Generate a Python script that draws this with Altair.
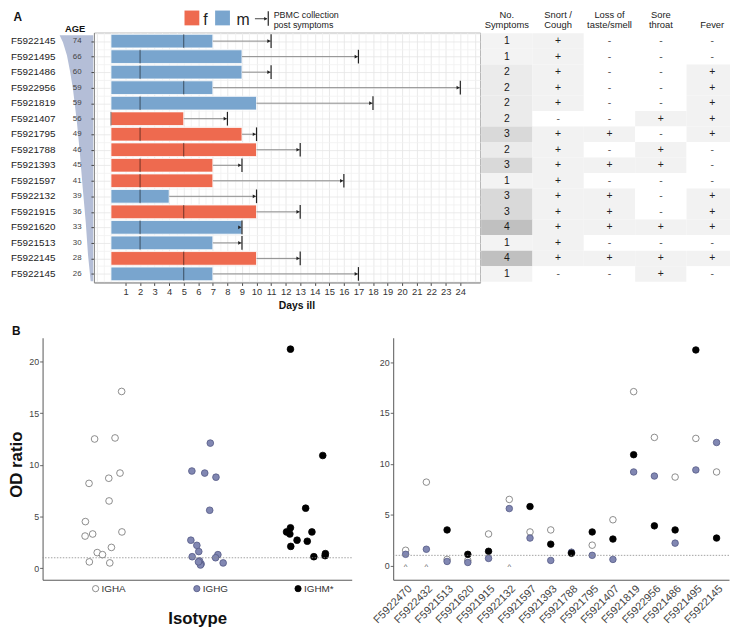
import altair as alt
import pandas as pd

FONT = "Liberation Sans"
RED = "#ee6a4f"
BLUE = "#79a5ce"
WEDGE = "#b4bed7"
INK = "#222222"

# ---------------- Panel A data ----------------
patient_ids = ["F5922145", "F5921495", "F5921486", "F5922956", "F5921819", "F5921407",
               "F5921795", "F5921788", "F5921393", "F5921597", "F5922132", "F5921915",
               "F5921620", "F5921513", "F5922145", "F5922145"]
ages = [74, 66, 60, 59, 59, 56, 49, 46, 45, 41, 39, 36, 33, 30, 28, 26]
sexes = ["m", "m", "m", "m", "m", "f", "f", "f", "f", "f", "m", "f", "m", "m", "f", "m"]
days_ill = [7, 9, 9, 7, 10, 5, 9, 10, 7, 7, 4, 10, 9, 7, 10, 7]
marker_day = [5, 2, 2, 5, 2, 0, 2, 5, 2, 2, 2, 5, 2, 2, 5, 5]
pbmc_day = [11, 17, 11, 24, 18, 8, 10, 13, 9, 16, 10, 13, 9, 9, 13, 17]

n_symptoms = [1, 1, 2, 2, 2, 2, 3, 2, 3, 1, 3, 3, 4, 1, 4, 1]
snort_cough = ["+", "+", "+", "+", "+", "-", "+", "+", "+", "+", "+", "+", "+", "+", "+", "-"]
loss_taste = ["-", "-", "-", "-", "-", "-", "+", "-", "+", "-", "+", "+", "+", "-", "+", "-"]
sore_throat = ["-", "-", "-", "-", "-", "+", "-", "+", "+", "-", "-", "-", "+", "-", "+", "+"]
fever = ["-", "-", "+", "+", "+", "+", "+", "-", "-", "-", "+", "+", "+", "-", "+", "-"]
header_line1 = ["No.", "Snort /", "Loss of", "Sore", ""]
header_line2 = ["Symptoms", "Cough", "taste/smell", "throat", "Fever"]
count_shades = {1: "#f3f3f3", 2: "#ebebeb", 3: "#d9d9d9", 4: "#c0c0c0"}
sign_shades = {"+": "#f2f2f2", "-": "#ffffff"}
sex_domain = ["f", "m"]
sex_colors = [RED, BLUE]
pbmc_lines = ["PBMC collection", "post symptoms"]

# age wedge outline (row position, width)
wedge_pos = [0.12, 0.59, 1.43, 2.5, 3.56, 4.61, 5.68, 6.74, 7.9, 10.0, 12.15, 14.27, 15.97]
wedge_width = [34.0, 30.6, 26.6, 23.3, 20.6, 18.6, 16.6, 15.0, 13.3, 10.6, 7.6, 5.3, 2.6]

# ---------------- Panel B data ----------------
ids_b = ["F5922470", "F5922432", "F5921513", "F5921620", "F5921915", "F5922132", "F5921597",
         "F5921393", "F5921788", "F5921795", "F5921407", "F5921819", "F5922956", "F5921486",
         "F5921495", "F5922145"]
igha = [1.5, 8.2, 0.6, 0.5, 3.1, 6.5, 3.3, 3.5, 1.3, 2.0, 4.5, 17.1, 12.6, 8.7, 12.5, 9.2]
ighg = [1.1, 1.6, 0.4, 0.3, 0.7, 5.6, 2.7, 0.5, 1.3, 1.0, 0.6, 9.2, 8.8, 2.2, 9.4, 12.1]
ighm = [None, None, 3.5, 1.1, 1.4, None, 5.8, 2.1, 1.2, 3.3, 2.6, 10.9, 3.9, 3.5, 21.2, 2.7]
jit_igha = [-0.062, -0.143, -0.140, 0.062, -0.182, 0.055, -0.107, 0.182, -0.010, 0.078,
            -0.179, 0.179, 0.114, 0.052, -0.088, 0.163]
jit_ighg = [-0.124, -0.059, -0.036, -0.042, -0.052, 0.049, -0.137, 0.182, 0.130, 0.107,
            -0.062, 0.0, 0.111, -0.078, -0.127, 0.055]
jit_ighm = [0.0, 0.0, -0.192, 0.078, 0.192, 0.0, -0.003, -0.150, 0.189, -0.159,
            0.013, 0.166, -0.153, 0.059, -0.153, -0.088]
iso_names = ["IGHA", "IGHG", "IGHM"]
iso_labels = ["IGHA", "IGHG", "IGHM*"]
iso_fill = ["#ffffff", "#8187b2", "#000000"]
iso_stroke = ["#707070", "#555a85", "#000000"]
cutoff = [1]

# ---------------- tables ----------------
rows_df = pd.DataFrame({"r": list(range(16)), "id": patient_ids, "age": ages, "sex": sexes,
                        "days": days_ill, "mark": marker_day, "pbmc": pbmc_day})
wedge_df = pd.DataFrame({"pos": wedge_pos, "w": wedge_width})

cells = []
for r in range(16):
    cols = [str(n_symptoms[r]), snort_cough[r], loss_taste[r], sore_throat[r], fever[r]]
    for j, t in enumerate(cols):
        if j == 0:
            bg, kind = count_shades[n_symptoms[r]], "n"
        else:
            bg, kind = sign_shades[t], ("p" if t == "+" else "m")
        cells.append({"r": r, "j": j, "txt": t, "bg": bg, "kind": kind})
table_df = pd.DataFrame(cells)
head_df = pd.DataFrame({"j": list(range(5)), "h1": header_line1, "h2": header_line2})

recs = []
for k, (iso, vals, jits) in enumerate(zip(iso_names, [igha, ighg, ighm], [jit_igha, jit_ighg, jit_ighm]), start=1):
    for pid, v, jt in zip(ids_b, vals, jits):
        if v is not None:
            recs.append({"id": pid, "iso": iso, "k": k, "val": v, "jit": jt})
long_df = pd.DataFrame(recs)
missing_df = pd.DataFrame({"id": [p for p, v in zip(ids_b, ighm) if v is None]})
missing_df["val"] = 0
iso_df = pd.DataFrame({"k": [1, 2, 3], "iso": iso_names, "label": iso_labels})
cut_df = pd.DataFrame({"t": cutoff})
sex_df = pd.DataFrame({"sex": sex_domain, "col": sex_colors, "i": [0, 1]})
one = pd.DataFrame({"a": [0]})

# ---------------- scales ----------------
TOP_H = 253
ys = alt.Scale(domain=[-0.05, 16.05], reverse=True, nice=False, zero=False)
xs = alt.Scale(domain=[-1.17, 25.36], nice=False, zero=False)

# ---------------- age / id column ----------------
ax_age = alt.Scale(domain=[0, 52], nice=False, zero=False)
wedge = alt.Chart(wedge_df).transform_calculate(
    xl="51.3 - datum.w", xr="51.3"
).mark_area(orient="horizontal", color=WEDGE).encode(
    y=alt.Y("pos:Q", scale=ys, axis=None),
    x=alt.X("xl:Q", scale=ax_age, axis=None),
    x2="xr:Q",
)
rowbase = alt.Chart(rows_df).transform_calculate(
    c="datum.r + 0.5", t="datum.r + 0.06", b="datum.r + 0.94", zero="0"
)
id_text = rowbase.mark_text(align="right", baseline="middle", fontSize=10, color=INK).encode(
    y=alt.Y("c:Q", scale=ys, axis=None), x=alt.value(13), text="id:N")
age_text = rowbase.mark_text(align="center", baseline="middle", fontSize=8, color="#444444").encode(
    y=alt.Y("c:Q", scale=ys, axis=None), x=alt.value(35), text="age:Q")
age_head = alt.Chart(one).mark_text(fontSize=9.5, fontWeight="bold", color="#111111",
                                    baseline="middle").encode(
    x=alt.value(33), y=alt.value(-4), text=alt.value("AGE"))
label_a = alt.Chart(one).mark_text(fontSize=12, fontWeight="bold", color="#111111",
                                   align="left", baseline="middle").encode(
    x=alt.value(-29.5), y=alt.value(-16), text=alt.value("A"))
agecol = alt.layer(wedge, id_text, age_text, age_head, label_a).properties(width=52, height=TOP_H)

# ---------------- bars ----------------
half_days = [v / 2 for v in range(-2, 51)]
half_rows = [v / 2 for v in range(0, 33)]
int_test = "datum.value % 1 == 0 && datum.value >= 1 && datum.value <= 24"
x_axis = alt.Axis(
    values=half_days, title="Days ill", titleFontSize=10.5, titleFontWeight="bold",
    titleColor="#111111", titlePadding=5, titleX=205, titleAlign="center",
    labelExpr="(" + int_test + ") ? datum.value : ''",
    labelFontSize=9.5, labelColor="#333333", labelPadding=1, labelOverlap=False, labelFlush=False,
    tickSize=3, tickColor="#444444",
    tickOpacity={"condition": {"test": int_test, "value": 1}, "value": 0},
    grid=True, gridWidth=0.8,
    gridColor={"condition": {"test": "datum.value % 1 == 0", "value": "#e3e3e3"}, "value": "#f0f0f0"},
    domainColor="#888888")
y_axis = alt.Axis(
    values=half_rows, labels=False, title="", tickSize=3, tickColor="#444444",
    tickOpacity={"condition": {"test": "datum.value % 1 == 0.5", "value": 1}, "value": 0},
    grid=True, gridWidth=0.8,
    gridColor={"condition": {"test": "datum.value % 1 == 0.5", "value": "#e6e6e6"}, "value": "#f1f1f1"},
    domainColor="#888888")
sex_scale = alt.Scale(domain=sex_domain, range=sex_colors)


def XB(f):
    return alt.X(f, type="quantitative", scale=xs, axis=x_axis)


def YB(f):
    return alt.Y(f, type="quantitative", scale=ys, axis=y_axis)


bars = rowbase.mark_bar(stroke="white", strokeWidth=0.8).encode(
    x=XB("zero"), x2="days:Q", y=YB("t"), y2="b:Q",
    color=alt.Color("sex:N", scale=sex_scale, legend=None),
)
marks_in = rowbase.mark_rule(color="#000000", opacity=0.6, strokeWidth=0.9).encode(
    x=XB("mark"), y=YB("t"), y2="b:Q")
connector = rowbase.mark_rule(color="#8a8a8a", strokeWidth=1).encode(
    x=XB("days"), x2="pbmc:Q", y=YB("c"))
arrow = rowbase.mark_point(shape="triangle-right", filled=True, size=14, color="#222222",
                           opacity=1, xOffset=-2.2).encode(x=XB("pbmc"), y=YB("c"))
pbmc_tick = rowbase.mark_rule(color="#222222", strokeWidth=1.2).encode(
    x=XB("pbmc"), y=YB("t"), y2="b:Q")

# legend: sex squares + PBMC symbol
sexleg = alt.Chart(sex_df).transform_calculate(x0="91.7 + 31 * datum.i", x1="106.7 + 31 * datum.i",
                                               xt="110.8 + 33.5 * datum.i")
leg_sq = sexleg.mark_rect().encode(
    x=alt.X("x0:Q", scale=None), x2="x1:Q", y=alt.value(-22.3), y2=alt.value(-7.3),
    color=alt.Color("sex:N", scale=sex_scale, legend=None))
leg_lab = sexleg.mark_text(align="left", baseline="alphabetic", fontSize=16, color=INK).encode(
    x=alt.X("xt:Q", scale=None), y=alt.value(-8), text="sex:N")
leg_line = alt.Chart(one).mark_rule(color="#444444", strokeWidth=1).encode(
    x=alt.value(163), x2=alt.value(175), y=alt.value(-14))
leg_arrow = alt.Chart(one).mark_point(shape="triangle-right", filled=True, size=14,
                                      color="#222222", opacity=1).encode(
    x=alt.value(174), y=alt.value(-14))
leg_tick = alt.Chart(one).mark_rule(color="#222222", strokeWidth=1.2).encode(
    x=alt.value(176.5), y=alt.value(-21.5), y2=alt.value(-7))
leg_text1 = alt.Chart(one).mark_text(align="left", baseline="middle", fontSize=9, color=INK).encode(
    x=alt.value(182), y=alt.value(-17.3), text=alt.value(pbmc_lines[0]))
leg_text2 = alt.Chart(one).mark_text(align="left", baseline="middle", fontSize=9, color=INK).encode(
    x=alt.value(182), y=alt.value(-8), text=alt.value(pbmc_lines[1]))

bars_chart = alt.layer(bars, marks_in, connector, arrow, pbmc_tick,
                       leg_sq, leg_lab, leg_line, leg_arrow, leg_tick, leg_text1, leg_text2).properties(
    width=391, height=TOP_H, view=alt.ViewBackground(stroke="#b0b0b0", strokeWidth=1))

# ---------------- symptom table ----------------
tx = alt.Scale(domain=[-1 / 52, 252 / 52], nice=False, zero=False)
tab = alt.Chart(table_df).transform_calculate(
    j1="datum.j + 1", jc="datum.j + 0.5", r1="datum.r + 1", rc="datum.r + 0.5")
cell_rects = tab.mark_rect(clip=True).encode(
    x=alt.X("j:Q", scale=tx, axis=None), x2="j1:Q",
    y=alt.Y("r:Q", scale=ys, axis=None), y2="r1:Q",
    fill=alt.Fill("bg:N", scale=None))
text_layers = []
for kind, colr in [("n", "#1a1a1a"), ("p", "#222222"), ("m", "#555555")]:
    text_layers.append(
        tab.transform_filter(alt.datum.kind == kind).mark_text(
            fontSize=10.5, baseline="middle", color=colr).encode(
            x=alt.X("jc:Q", scale=tx, axis=None), y=alt.Y("rc:Q", scale=ys, axis=None),
            text="txt:N"))
headbase = alt.Chart(head_df).transform_calculate(jc="datum.j + 0.5")
head1 = headbase.mark_text(fontSize=9.5, baseline="middle", color=INK).encode(
    x=alt.X("jc:Q", scale=tx, axis=None), y=alt.value(-17.5), text="h1:N")
head2 = headbase.mark_text(fontSize=9.5, baseline="middle", color=INK).encode(
    x=alt.X("jc:Q", scale=tx, axis=None), y=alt.value(-7.5), text="h2:N")
table_chart = alt.layer(cell_rects, *text_layers, head1, head2).properties(width=253, height=TOP_H)

# ---------------- Panel B ----------------
HB = 245
fill_scale = alt.Scale(domain=iso_names, range=iso_fill)
stroke_scale = alt.Scale(domain=iso_names, range=iso_stroke)
ysL = alt.Scale(domain=[-1.13, 22.3], nice=False, zero=False)
ysR = alt.Scale(domain=[-1.4, 22.4], nice=False, zero=False)
xL = alt.Scale(domain=[0.398, 3.452], nice=False, zero=False)
ycommon = dict(values=[0, 5, 10, 15, 20], grid=False, labelFontSize=9, labelColor="#444444",
               tickSize=3, tickColor="#666666", domainColor="#555555", labelPadding=1)
xL_axis = alt.Axis(labels=False, ticks=False, grid=False, title="Isotype",
                   titleFontSize=17, titleFontWeight="bold", titleColor="#111111",
                   titlePadding=31, domainColor="#555555")
yL_axis = alt.Axis(title="OD ratio", titleFontSize=17, titleFontWeight="bold",
                   titleColor="#111111", titlePadding=3, titleY=128, **ycommon)
xR_axis = alt.Axis(title="", labelAngle=315, labelAlign="right", labelBaseline="top",
                   labelFontSize=11, labelColor="#444444", ticks=False,
                   domainColor="#555555", labelPadding=3, grid=False)
yR_axis = alt.Axis(title="", **ycommon)

left_pts = alt.Chart(long_df).transform_calculate(xp="datum.k + datum.jit").mark_point(
    filled=True, size=46, strokeWidth=0.8, opacity=1, shape="circle").encode(
    x=alt.X("xp:Q", scale=xL, axis=xL_axis),
    y=alt.Y("val:Q", scale=ysL, axis=yL_axis),
    fill=alt.Fill("iso:N", scale=fill_scale, legend=None),
    stroke=alt.Stroke("iso:N", scale=stroke_scale, legend=None),
)
left_cut = alt.Chart(cut_df).mark_rule(strokeDash=[1.5, 1.5], color="#8a8a8a", strokeWidth=0.8).encode(
    y=alt.Y("t:Q", scale=ysL, axis=yL_axis))
iso_text = alt.Chart(iso_df).mark_text(align="left", baseline="middle", fontSize=10,
                                       color="#333333", dx=-2).encode(
    x=alt.X("k:Q", scale=xL, axis=xL_axis), y=alt.value(HB + 9), text="label:N")
iso_sym = alt.Chart(iso_df).mark_point(filled=True, size=40, strokeWidth=0.8, opacity=1,
                                       shape="circle", xOffset=-8).encode(
    x=alt.X("k:Q", scale=xL, axis=xL_axis), y=alt.value(HB + 9),
    fill=alt.Fill("iso:N", scale=fill_scale, legend=None),
    stroke=alt.Stroke("iso:N", scale=stroke_scale, legend=None))
label_b = alt.Chart(one).mark_text(fontSize=12, fontWeight="bold", color="#111111",
                                   align="left", baseline="middle").encode(
    x=alt.value(-31), y=alt.value(-7), text=alt.value("B"))
left_chart = alt.layer(left_pts, left_cut, iso_text, iso_sym, label_b).properties(width=313, height=HB)

xR = alt.Scale(type="point", padding=0.6)
right_pts = alt.Chart(long_df).mark_point(filled=True, size=44, strokeWidth=0.8, opacity=1,
                                          shape="circle").encode(
    x=alt.X("id:N", sort=ids_b, scale=xR, axis=xR_axis),
    y=alt.Y("val:Q", scale=ysR, axis=yR_axis),
    fill=alt.Fill("iso:N", scale=fill_scale, legend=None),
    stroke=alt.Stroke("iso:N", scale=stroke_scale, legend=None),
)
right_cut = alt.Chart(cut_df).mark_rule(strokeDash=[1.5, 1.5], color="#8a8a8a", strokeWidth=0.8).encode(
    y=alt.Y("t:Q", scale=ysR, axis=yR_axis))
carets = alt.Chart(missing_df).mark_text(text="^", fontSize=8, color="#555555", dy=2).encode(
    x=alt.X("id:N", sort=ids_b, scale=xR, axis=xR_axis), y=alt.Y("val:Q", scale=ysR, axis=yR_axis))
right_chart = alt.layer(right_pts, right_cut, carets).properties(width=340, height=HB)

top = alt.hconcat(agecol, bars_chart, table_chart, spacing=0, bounds="flush")
bottom = alt.hconcat(left_chart, right_chart, spacing=42, bounds="flush")
chart = alt.vconcat(top, bottom, spacing=13).properties(
    padding={"left": -1, "top": -2, "right": 0, "bottom": 0}).configure(
    font=FONT).configure_view(strokeWidth=0)

chart.save("out.html", embed_options={"renderer": "svg", "actions": False})
